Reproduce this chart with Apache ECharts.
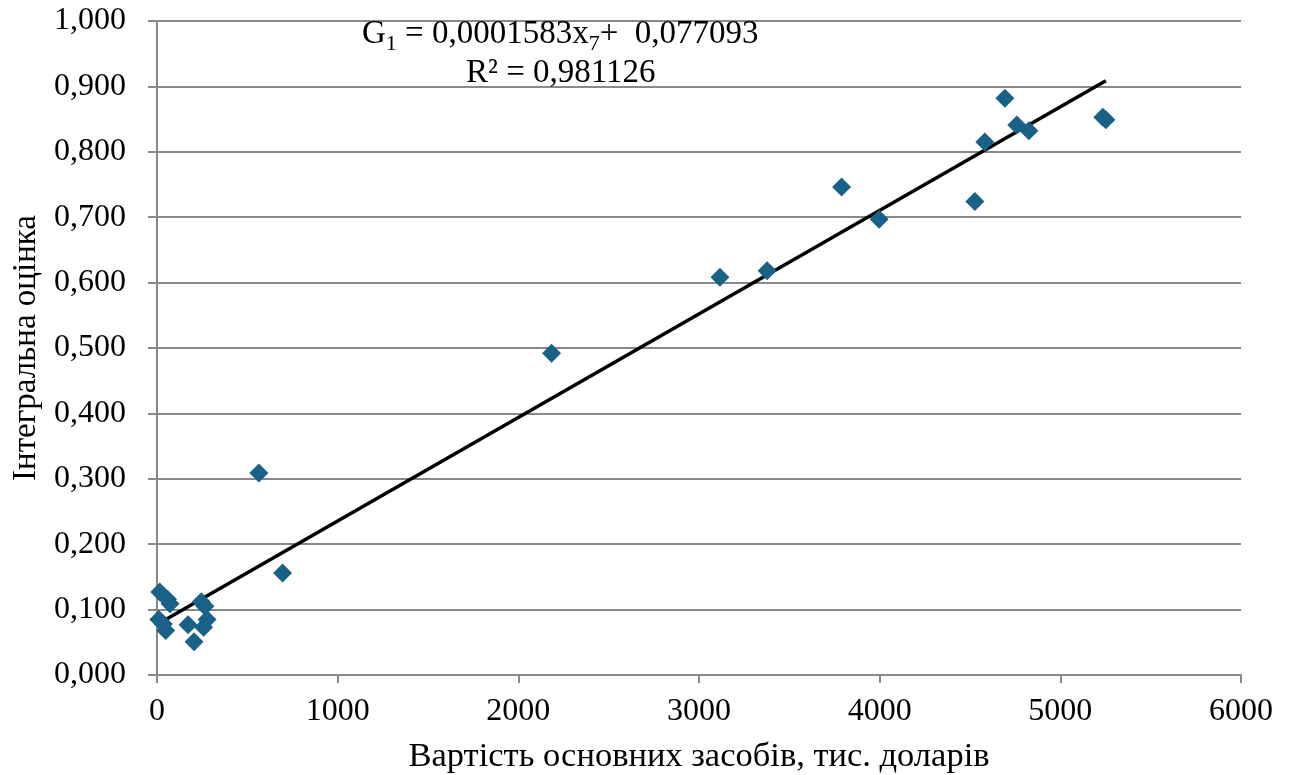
<!DOCTYPE html>
<html>
<head>
<meta charset="utf-8">
<script src="https://cdn.jsdelivr.net/npm/echarts@6/dist/echarts.min.js"></script>
<style>
html,body{margin:0;padding:0;background:#fff;}
#chart{width:1292px;height:775px;}
</style>
</head>
<body>
<div id="chart"></div>
<script>
// Data
const xValues = [15, 58, 72, 10, 35, 48, 245, 265, 277, 258, 172, 205, 564, 695, 2184, 3116, 3377, 3789, 3997, 4527, 4582, 4693, 4759, 4826, 5235, 5252];
const yValues = [0.127, 0.116, 0.109, 0.085, 0.078, 0.068, 0.112, 0.105, 0.085, 0.073, 0.077, 0.051, 0.309, 0.156, 0.492, 0.608, 0.618, 0.746, 0.697, 0.724, 0.815, 0.882, 0.841, 0.832, 0.853, 0.849];
const slope = 0.0001583;
const intercept = 0.077093;
const eqSlopeText = '0,0001583';
const eqInterceptText = '0,077093';
const r2Text = '0,981126';
const xAxisTitle = 'Вартість основних засобів, тис. доларів';
const yAxisTitle = 'Інтегральна оцінка';

const points = xValues.map((x, i) => [x, yValues[i]]);
const xMin = Math.min(...xValues), xMax = Math.max(...xValues);
const trend = [[xMin, slope * xMin + intercept], [xMax, slope * xMax + intercept]];

const FONT = '"Liberation Serif", "Times New Roman", serif';
const GREY = '#898989';
const FS = 32;

const chart = echarts.init(document.getElementById('chart'));
chart.setOption({
  animation: false,
  backgroundColor: '#fff',
  grid: { left: 157, right: 51, top: 21, bottom: 100, containLabel: false, outerBoundsMode: 'none' },
  xAxis: {
    type: 'value', min: 0, max: 6000, interval: 1000,
    name: xAxisTitle, nameLocation: 'middle', nameGap: 64,
    nameTextStyle: { fontFamily: FONT, fontSize: 34.5, color: '#000' },
    axisLine: { show: true, onZero: false, lineStyle: { color: GREY, width: 2 } },
    axisTick: { show: true, length: 8, lineStyle: { color: GREY, width: 2 } },
    axisLabel: { fontFamily: FONT, fontSize: FS, color: '#000', margin: 21, formatter: v => String(v) },
    splitLine: { show: false }
  },
  yAxis: {
    type: 'value', min: 0, max: 1, interval: 0.1,
    name: yAxisTitle, nameLocation: 'middle', nameGap: 113, nameRotate: 90,
    nameTextStyle: { fontFamily: FONT, fontSize: 33, color: '#000' },
    axisLine: { show: true, lineStyle: { color: GREY, width: 2 } },
    axisTick: { show: true, length: 9, lineStyle: { color: GREY, width: 2 } },
    axisLabel: { fontFamily: FONT, fontSize: FS, color: '#000', margin: 31,
      formatter: v => v.toFixed(3).replace('.', ',') },
    splitLine: { show: true, lineStyle: { color: GREY, width: 2 } }
  },
  series: [
    {
      type: 'line', data: trend, symbol: 'none', silent: true,
      lineStyle: { color: '#000', width: 3.5 }, z: 3
    },
    {
      type: 'scatter', data: points, symbol: 'diamond', symbolSize: 19,
      itemStyle: { color: '#1a6187', opacity: 1 }, z: 4
    }
  ],
  graphic: [
    {
      type: 'text', left: 362, top: 18, z: 10,
      style: {
        text: '{g|G}{s|1}{g| = ' + eqSlopeText + 'x}{s|7}{g|+  ' + eqInterceptText + '}',
        font: '33px ' + FONT,
        fill: '#000',
        rich: {
          g: { fontFamily: FONT, fontSize: 33, color: '#000', lineHeight: 40, verticalAlign: 'top' },
          s: { fontFamily: FONT, fontSize: 22, color: '#000', lineHeight: 40, padding: [15, 0, 0, 0], verticalAlign: 'top' }
        }
      }
    },
    {
      type: 'text', left: 466, top: 57, z: 10,
      style: {
        text: 'R² = ' + r2Text,
        font: '33px ' + FONT,
        fill: '#000'
      }
    }
  ]
});
</script>
</body>
</html>
